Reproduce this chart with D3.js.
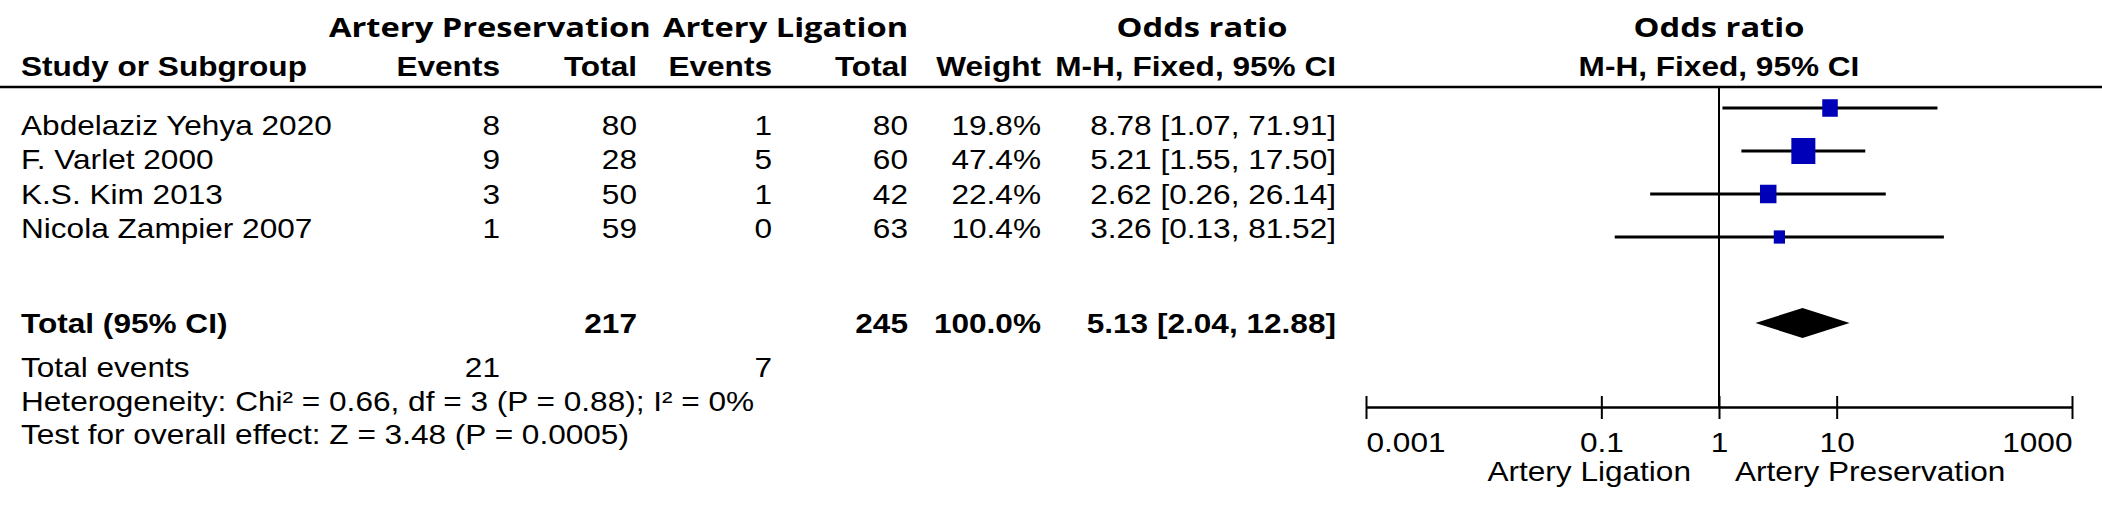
<!DOCTYPE html>
<html>
<head>
<meta charset="utf-8">
<script src="https://cdn.jsdelivr.net/npm/d3@7"></script>
<style>
  html, body { margin: 0; padding: 0; background: #fff; }
  svg { display: block; }
</style>
</head>
<body>
<svg id="chart" width="2102" height="505"></svg>
<script>
// ---------------- data ----------------
const studies = ["Abdelaziz Yehya 2020", "F. Varlet 2000", "K.S. Kim 2013", "Nicola Zampier 2007"];
const presEvents = [8, 9, 3, 1];
const presTotal = [80, 28, 50, 59];
const ligEvents = [1, 5, 1, 0];
const ligTotal = [80, 60, 42, 63];
const weights = [19.8, 47.4, 22.4, 10.4];
const orEst = [8.78, 5.21, 2.62, 3.26];
const orLow = [1.07, 1.55, 0.26, 0.13];
const orHigh = [71.91, 17.50, 26.14, 81.52];
const orText = ["8.78 [1.07, 71.91]", "5.21 [1.55, 17.50]", "2.62 [0.26, 26.14]", "3.26 [0.13, 81.52]"];
const weightText = ["19.8%", "47.4%", "22.4%", "10.4%"];

const totalLabel = "Total (95% CI)";
const totalPres = 217;
const totalLig = 245;
const totalWeight = "100.0%";
const totalOR = 5.13, totalLow = 2.04, totalHigh = 12.88;
const totalORText = "5.13 [2.04, 12.88]";
const totalEventsPres = 21;
const totalEventsLig = 7;
const heterogeneityText = "Heterogeneity: Chi\u00B2 = 0.66, df = 3 (P = 0.88); I\u00B2 = 0%";
const overallText = "Test for overall effect: Z = 3.48 (P = 0.0005)";

const tickValues = [0.001, 0.1, 1, 10, 1000];
const tickLabels = ["0.001", "0.1", "1", "10", "1000"];
const favourLeft = "Artery Ligation";
const favourRight = "Artery Preservation";

// ---------------- layout ----------------
const svg = d3.select("#chart");
const SX = 1.17;            // horizontal stretch of the source figure's text
const ARIAL = "'Liberation Sans', Arial, sans-serif";
const SEGOE = "'Open Sans', 'Noto Sans', sans-serif";
const FS = 27;

function txt(x, y, s, o = {}) {
  return svg.append("text")
    .attr("transform", `translate(${x},${y}) scale(${o.sx || SX},1)`)
    .attr("text-anchor", o.anchor || "start")
    .attr("font-family", o.family || ARIAL)
    .attr("font-size", o.size || FS)
    .attr("font-weight", o.bold ? "bold" : "normal")
    .attr("fill", "#000")
    .text(s);
}

// column right edges
const col = { name: 21, ev1: 500, tot1: 637, ev2: 772, tot2: 908, wt: 1041, ci: 1336, ciMid: 1202 };
const H1 = { family: SEGOE, bold: true, size: 27, sx: 1.21 };

// headers
txt(329, 37, "Artery Preservation", H1);
txt(663, 37, "Artery Ligation", H1);
txt(col.ciMid, 37, "Odds ratio", { ...H1, anchor: "middle" });
txt(1719, 37, "Odds ratio", { ...H1, anchor: "middle" });

txt(col.name, 76, "Study or Subgroup", { bold: true });
txt(col.ev1, 76, "Events", { bold: true, anchor: "end" });
txt(col.tot1, 76, "Total", { bold: true, anchor: "end" });
txt(col.ev2, 76, "Events", { bold: true, anchor: "end" });
txt(col.tot2, 76, "Total", { bold: true, anchor: "end" });
txt(col.wt, 76, "Weight", { bold: true, anchor: "end" });
txt(col.ci, 76, "M-H, Fixed, 95% CI", { bold: true, anchor: "end" });
txt(1719, 76, "M-H, Fixed, 95% CI", { bold: true, anchor: "middle" });

// header rule
const ruleY = 87;
svg.append("line").attr("x1", 0).attr("x2", 2102).attr("y1", ruleY).attr("y2", ruleY)
  .attr("stroke", "#000").attr("stroke-width", 2.5);

// row scales
const textRow = d3.scalePoint().domain(studies).range([135, 238]);
const plotRow = d3.scalePoint().domain(studies).range([108, 237]);

// study rows text
studies.forEach((s, i) => {
  const y = textRow(s);
  txt(col.name, y, s);
  txt(col.ev1, y, presEvents[i], { anchor: "end" });
  txt(col.tot1, y, presTotal[i], { anchor: "end" });
  txt(col.ev2, y, ligEvents[i], { anchor: "end" });
  txt(col.tot2, y, ligTotal[i], { anchor: "end" });
  txt(col.wt, y, weightText[i], { anchor: "end" });
  txt(col.ci, y, orText[i], { anchor: "end" });
});

// totals
const totY = 333;
txt(col.name, totY, totalLabel, { bold: true });
txt(col.tot1, totY, totalPres, { bold: true, anchor: "end" });
txt(col.tot2, totY, totalLig, { bold: true, anchor: "end" });
txt(col.wt, totY, totalWeight, { bold: true, anchor: "end" });
txt(col.ci, totY, totalORText, { bold: true, anchor: "end" });

txt(col.name, 377, "Total events");
txt(col.ev1, 377, totalEventsPres, { anchor: "end" });
txt(col.ev2, 377, totalEventsLig, { anchor: "end" });
txt(col.name, 411, heterogeneityText);
txt(col.name, 444, overallText);

// ---------------- forest plot ----------------
const x = d3.scaleLog().domain([0.001, 1000]).range([1366, 2072]);
const axisY = 407;

// null line
svg.append("line").attr("x1", x(1)).attr("x2", x(1)).attr("y1", ruleY).attr("y2", axisY)
  .attr("stroke", "#000").attr("stroke-width", 2);

// CI lines
svg.append("g").selectAll("line").data(studies).join("line")
  .attr("x1", (d, i) => x(orLow[i])).attr("x2", (d, i) => x(orHigh[i]))
  .attr("y1", d => plotRow(d)).attr("y2", d => plotRow(d))
  .attr("stroke", "#000").attr("stroke-width", 3);

// squares
const size = d3.scaleSqrt().domain([0, d3.max(weights)]).range([0, 24]);
svg.append("g").selectAll("rect").data(studies).join("rect")
  .attr("x", (d, i) => x(orEst[i]) - size(weights[i]) / 2)
  .attr("y", (d, i) => plotRow(d) - size(weights[i]) / 2 - 1)
  .attr("width", (d, i) => size(weights[i]))
  .attr("height", (d, i) => size(weights[i]) + 2)
  .attr("fill", "#0000b8");

// diamond
const dY = 323, dH = 15;
svg.append("path")
  .attr("d", `M${x(totalLow)},${dY} L${x(totalOR)},${dY - dH} L${x(totalHigh)},${dY} L${x(totalOR)},${dY + dH} Z`)
  .attr("fill", "#000");

// axis
const axis = d3.axisBottom(x).tickValues(tickValues).tickFormat((d, i) => tickLabels[i])
  .tickSizeInner(12).tickSizeOuter(0);
const gAxis = svg.append("g").attr("transform", `translate(0,${axisY})`).call(axis);
gAxis.select(".domain").attr("stroke-width", 2.5).attr("stroke", "#000");
gAxis.selectAll(".tick line").attr("y1", -11).attr("y2", 12).attr("stroke-width", 2).attr("stroke", "#000");
gAxis.selectAll(".tick text")
  .attr("y", 0).attr("dy", 0)
  .attr("transform", `translate(0,45) scale(${SX},1)`)
  .attr("font-family", ARIAL).attr("font-size", FS).attr("fill", "#000")
  .attr("text-anchor", (d, i) => i === 0 ? "start" : (i === tickValues.length - 1 ? "end" : "middle"));

// favours labels
txt(x(1) - 28, 481, favourLeft, { anchor: "end" });
txt(x(1) + 16, 481, favourRight);
</script>
</body>
</html>
